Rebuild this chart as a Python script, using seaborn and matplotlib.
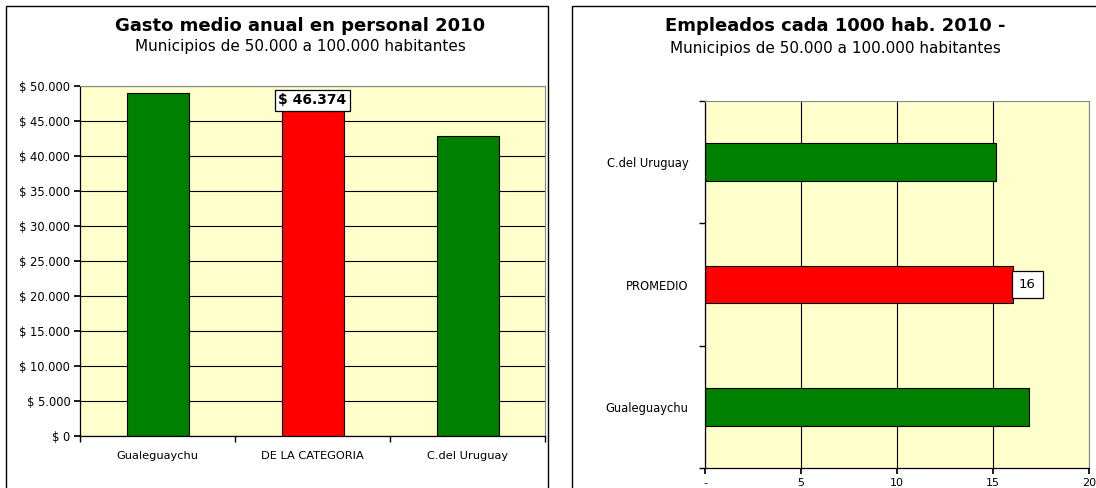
import matplotlib
matplotlib.use('Agg')
import pandas as pd
import seaborn as sns
import matplotlib.pyplot as plt
from matplotlib.patches import Rectangle
from matplotlib.ticker import FuncFormatter, FixedLocator

# left chart: gasto medio anual en personal
gasto_cats = ['Gualeguaychu', 'DE LA CATEGORIA', 'C.del Uruguay']
gasto_vals = [49050, 46374, 42850]

# right chart: empleados cada 1000 hab. (top to bottom)
emp_cats = ['C.del Uruguay', 'PROMEDIO', 'Gualeguaychu']
emp_vals = [15.15, 16.05, 16.85]

GREEN = '#008000'
RED = '#FF0000'
BG = '#FFFFCC'

sns.set_theme(style='white')
plt.rcParams['font.family'] = ['DejaVu Sans']
plt.rcParams['text.color'] = 'black'
plt.rcParams['xtick.color'] = 'black'
plt.rcParams['ytick.color'] = 'black'

W, H = 1096, 488
fig = plt.figure(figsize=(W / 100, H / 100), dpi=100)


def px_axes(x0, y0, x1, y1):
    return fig.add_axes([x0 / W, 1 - y1 / H, (x1 - x0) / W, (y1 - y0) / H])


# outer boxes
fig.patches.append(Rectangle((6 / W, -0.05), 542 / W, 1 - 6 / H + 0.05,
                             transform=fig.transFigure, fill=False,
                             edgecolor='black', linewidth=1.0))
fig.patches.append(Rectangle((572 / W, -0.05), 0.6, 1 - 6 / H + 0.05,
                             transform=fig.transFigure, fill=False,
                             edgecolor='black', linewidth=1.0))

# ---- left chart
df1 = pd.DataFrame({'cat': gasto_cats, 'val': gasto_vals})
ax1 = px_axes(80, 86, 545, 436)
ax1.set_facecolor(BG)
sns.barplot(data=df1, x='cat', y='val', hue='cat', palette=[GREEN, RED, GREEN],
            saturation=1, width=0.4, edgecolor='black', linewidth=0.8, legend=False, ax=ax1)
ax1.set_ylim(0, 50000)
ax1.set_xlim(-0.5, 2.5)
ax1.set_yticks(range(0, 50001, 5000))
ax1.yaxis.set_major_formatter(FuncFormatter(lambda v, p: '$ ' + f'{int(v):,}'.replace(',', '.')))
ax1.grid(axis='y', color='black', linewidth=0.8)
ax1.set_axisbelow(True)
ax1.set_xlabel('')
ax1.set_ylabel('')
ax1.tick_params(axis='y', labelsize=8.3, length=4, direction='out', left=True, pad=3)
ax1.tick_params(axis='x', labelsize=8.2, length=0, pad=11)
ax1.xaxis.set_minor_locator(FixedLocator([-0.5, 0.5, 1.5, 2.5]))
ax1.tick_params(axis='x', which='minor', length=4, bottom=True)
for s in ['left', 'bottom']:
    ax1.spines[s].set_color('black')
    ax1.spines[s].set_linewidth(0.9)
for s in ['top', 'right']:
    ax1.spines[s].set_color('#888888')
    ax1.spines[s].set_linewidth(0.8)
ax1.text(1, gasto_vals[1] + 600, '$ ' + f'{gasto_vals[1]:,}'.replace(',', '.'),
         ha='center', va='bottom', fontsize=10, fontweight='bold',
         bbox=dict(boxstyle='square,pad=0.25', facecolor='white', edgecolor='black', linewidth=0.9))
fig.text(300 / W, 1 - 26 / H, 'Gasto medio anual en personal 2010', ha='center', va='center',
         fontsize=13, fontweight='bold')
fig.text(300 / W, 1 - 47 / H, 'Municipios de 50.000 a 100.000 habitantes', ha='center', va='center',
         fontsize=11)

# ---- right chart
df2 = pd.DataFrame({'cat': emp_cats, 'val': emp_vals})
ax2 = px_axes(705, 101, 1089, 468)
ax2.set_facecolor(BG)
sns.barplot(data=df2, x='val', y='cat', hue='cat', palette=[GREEN, RED, GREEN],
            saturation=1, width=0.31, edgecolor='black', linewidth=0.8, legend=False,
            ax=ax2, orient='h')
ax2.set_xlim(0, 20)
ax2.set_ylim(2.5, -0.5)
ax2.set_xticks([0, 5, 10, 15, 20])
ax2.xaxis.set_major_formatter(FuncFormatter(lambda v, p: '-' if v == 0 else f'{int(v)}'))
ax2.grid(axis='x', color='black', linewidth=0.8)
ax2.set_axisbelow(True)
ax2.set_xlabel('')
ax2.set_ylabel('')
ax2.tick_params(axis='x', labelsize=8, length=4, direction='out', bottom=True, pad=3)
ax2.tick_params(axis='y', labelsize=8.3, length=0, pad=12)
ax2.yaxis.set_minor_locator(FixedLocator([-0.5, 0.5, 1.5, 2.5]))
ax2.tick_params(axis='y', which='minor', length=4, left=True)
for s in ['left', 'bottom']:
    ax2.spines[s].set_color('black')
    ax2.spines[s].set_linewidth(0.9)
for s in ['top', 'right']:
    ax2.spines[s].set_color('#888888')
    ax2.spines[s].set_linewidth(0.8)
ax2.text(emp_vals[1] + 0.3, 1, f'{round(emp_vals[1])}', ha='left', va='center', fontsize=9.5,
         bbox=dict(boxstyle='square,pad=0.55', facecolor='white', edgecolor='black', linewidth=0.9))
fig.text(835 / W, 1 - 26 / H, 'Empleados cada 1000 hab. 2010 -', ha='center', va='center',
         fontsize=13, fontweight='bold')
fig.text(835 / W, 1 - 48 / H, 'Municipios de 50.000 a 100.000 habitantes', ha='center', va='center',
         fontsize=11)

fig.savefig('out.png', dpi=100, facecolor='white')
